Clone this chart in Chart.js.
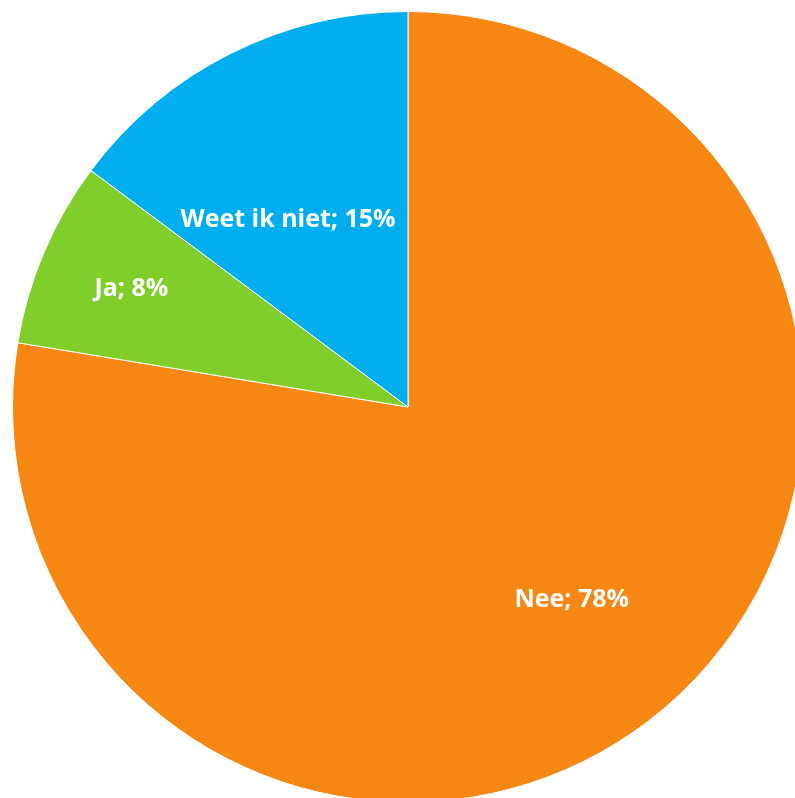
<!DOCTYPE html>
<html>
<head>
<meta charset="utf-8">
<script src="https://cdn.jsdelivr.net/npm/chart.js@4.4.1/dist/chart.umd.min.js"></script>
<style>
    html, body { margin: 0; padding: 0; background: #fff; overflow: hidden; width: 795px; height: 798px; }
    #wrap { position: absolute; left: 12px; top: 11px; width: 792px; height: 792px; }
</style>
</head>
<body>
<div id="wrap"><canvas id="pie"></canvas></div>
<script>
// Data
const labels = ['Nee', 'Ja', 'Weet ik niet'];
const values = [77.6, 7.6, 14.8];
const shownPct = ['78%', '8%', '15%'];
const colors = ['#F68712', '#80CE2A', '#00AEEF'];
// label distance from centre (fraction of radius) + small horizontal nudge
const labelRadius = [0.64, 0.76, 0.53];
const labelNudgeX = [0, 0, -26];

// Draws the "Name; xx%" labels inside the slices
const sliceLabels = {
    id: 'sliceLabels',
    afterDatasetsDraw(chart) {
        const ctx = chart.ctx;
        const meta = chart.getDatasetMeta(0);
        ctx.save();
        ctx.font = 'bold 25px "Open Sans", "Noto Sans", sans-serif';
        ctx.fillStyle = '#fff';
        ctx.textAlign = 'center';
        ctx.textBaseline = 'middle';
        meta.data.forEach((arc, i) => {
            const { x, y, startAngle, endAngle, outerRadius } = arc.getProps(['x', 'y', 'startAngle', 'endAngle', 'outerRadius'], true);
            const mid = (startAngle + endAngle) / 2;
            const r = outerRadius * labelRadius[i];
            ctx.fillText(`${labels[i]}; ${shownPct[i]}`, x + Math.cos(mid) * r + labelNudgeX[i], y + Math.sin(mid) * r);
        });
        ctx.restore();
    }
};

new Chart(document.getElementById('pie').getContext('2d'), {
    type: 'pie',
    data: {
        labels: labels,
        datasets: [{
            data: values,
            backgroundColor: colors,
            borderColor: '#fff',
            borderWidth: 1
        }]
    },
    options: {
        responsive: true,
        maintainAspectRatio: false,
        animation: false,
        layout: { padding: 0 },
        plugins: {
            legend: { display: false },
            tooltip: { enabled: false }
        }
    },
    plugins: [sliceLabels]
});
</script>
</body>
</html>
